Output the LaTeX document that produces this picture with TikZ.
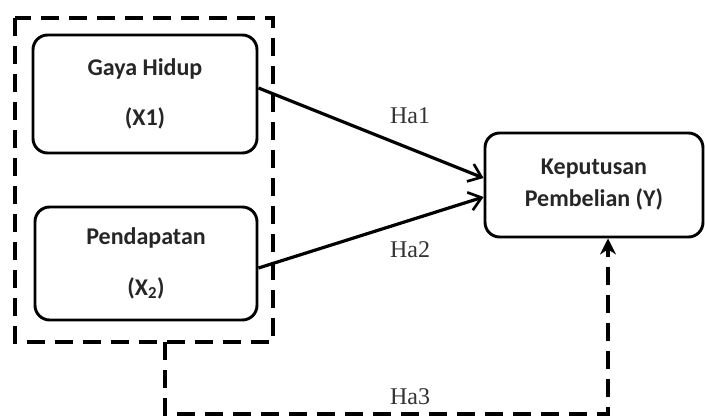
\documentclass[tikz,border=0pt]{standalone}
\usepackage{fontspec}
\setmainfont{Liberation Serif}
\newfontfamily\carlitofont{Carlito}
\usetikzlibrary{arrows.meta}
\begin{document}
\begin{tikzpicture}[x=0.75pt,y=-0.75pt,
  varbox/.style={draw,line width=2.2pt,rounded corners=11pt,font=\carlitofont\bfseries\fontsize{18}{38}\selectfont,align=center,inner sep=0pt,text=black!85},
  dashline/.style={line width=3pt,dash pattern=on 13.5pt off 7.5pt},
  hlabel/.style={font=\fontsize{18}{20}\selectfont,text=black!80}]
\useasboundingbox (0,0) rectangle (705,420);
\node[varbox,minimum width=224*0.75pt,minimum height=118*0.75pt] (x1) at (145,94) {Gaya Hidup\\(X1)};
\node[varbox,minimum width=222*0.75pt,minimum height=113*0.75pt] (x2) at (146,263.5) {Pendapatan\\(X\textsubscript{2})};
\node[varbox,minimum width=218*0.75pt,minimum height=104*0.75pt,font=\carlitofont\bfseries\fontsize{18}{24}\selectfont] (y) at (594,185) {Keputusan\\Pembelian (Y)};
\draw[dashline] (15,18) rectangle (273,342);
\coordinate (g) at (165,342);
\draw[line width=2.4pt,-{Straight Barb[length=9pt,width=14pt,line width=2pt]}] (x1.east |- 0,88) -- (y.west |- 0,178);
\draw[line width=2.4pt,-{Straight Barb[length=9pt,width=14pt,line width=2pt]}] (x2.east |- 0,268) -- (y.west |- 0,197);
\draw[dashline,-{Stealth[length=12pt,width=12pt]}] (g) -- (165,414) -- (608,414) -- (y.south -| 608,0);
\node[hlabel] (h1) at (410,116) {Ha1};
\node[hlabel] (h2) at (410,250) {Ha2};
\node[hlabel] (h3) at (410,397) {Ha3};
\end{tikzpicture}
\end{document}
